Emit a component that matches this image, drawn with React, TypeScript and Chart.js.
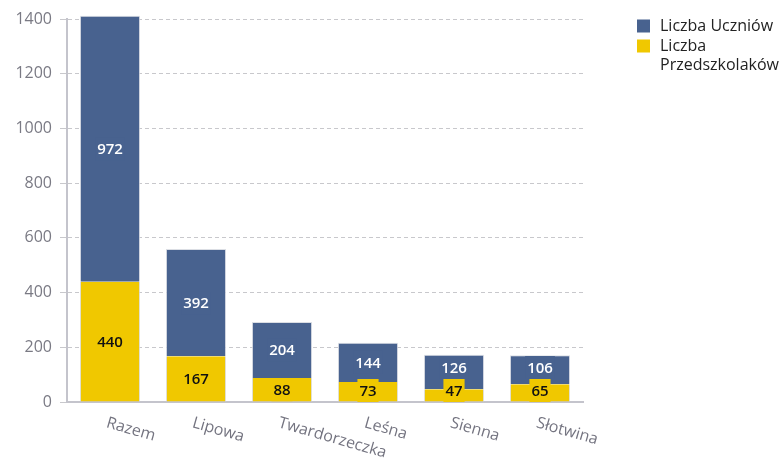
import React, { useEffect, useRef } from "react";
import { Chart, registerables } from "chart.js";

Chart.register(...registerables);

const categories = ["Razem", "Lipowa", "Twardorzeczka", "Leśna", "Sienna", "Słotwina"];
const przedszkolaki = [440, 167, 88, 73, 47, 65];
const uczniowie = [972, 392, 204, 144, 126, 106];
const yTicks = [0, 200, 400, 600, 800, 1000, 1200, 1400];

const BLUE = "#48628f";
const YELLOW = "#f0c800";
const FONT = "'Open Sans', sans-serif";

const labelsPlugin = {
  id: "segLabels",
  afterDatasetsDraw(chart: any) {
    const ctx = chart.ctx;
    const bottom = chart.chartArea.bottom;
    const yMeta = chart.getDatasetMeta(0);
    const bMeta = chart.getDatasetMeta(1);
    const half = 11.5;
    ctx.save();
    ctx.font = `600 15px ${FONT}`;
    ctx.textAlign = "center";
    ctx.textBaseline = "middle";
    const drawLabel = (x: number, cy: number, text: string, bg: string, fg: string) => {
      const w = ctx.measureText(text).width + 4;
      ctx.fillStyle = bg;
      ctx.fillRect(x - w / 2, cy - half, w, half * 2);
      ctx.fillStyle = fg;
      ctx.fillText(text, x, cy + 1);
    };
    yMeta.data.forEach((el: any, i: number) => {
      const be = bMeta.data[i];
      const ySeg = (el.y + el.base) / 2;
      const yc = Math.min(ySeg, bottom - half);
      const bSeg = (be.y + be.base) / 2;
      const bc = Math.min(bSeg, yc - 2 * half);
      drawLabel(be.x, bc, String(uczniowie[i]), BLUE, "#ffffff");
      drawLabel(el.x, yc, String(przedszkolaki[i]), YELLOW, "#111111");
    });
    ctx.restore();
  },
};

const xLabelsPlugin = {
  id: "xLabels",
  afterDraw(chart: any) {
    const ctx = chart.ctx;
    const xs = chart.scales.x;
    ctx.save();
    ctx.font = `16px ${FONT}`;
    ctx.fillStyle = "#747480";
    ctx.textAlign = "left";
    ctx.textBaseline = "top";
    categories.forEach((c, i) => {
      const x = xs.getPixelForTick(i);
      ctx.save();
      ctx.translate(x - 1, 415);
      ctx.rotate((16 * Math.PI) / 180);
      ctx.fillText(c, 0, 0);
      ctx.restore();
    });
    ctx.restore();
  },
};

const legendPlugin = {
  id: "customLegend",
  afterDraw(chart: any) {
    const ctx = chart.ctx;
    ctx.save();
    ctx.font = `16px ${FONT}`;
    ctx.textAlign = "left";
    ctx.textBaseline = "middle";
    const items = [
      { color: BLUE, lines: ["Liczba Uczniów"] },
      { color: YELLOW, lines: ["Liczba", "Przedszkolaków"] },
    ];
    let y = 26;
    items.forEach((it) => {
      ctx.fillStyle = it.color;
      ctx.fillRect(637, y - 6.5, 13, 13);
      ctx.fillStyle = "#222222";
      it.lines.forEach((ln, k) => {
        ctx.fillText(ln, 660, y + k * 19);
      });
      y += it.lines.length * 19 + 1;
    });
    ctx.restore();
  },
};

export default function App() {
  const ref = useRef<HTMLCanvasElement>(null);
  useEffect(() => {
    if (!ref.current) return;
    const chart = new Chart(ref.current, {
      type: "bar",
      data: {
        labels: categories,
        datasets: [
          {
            label: "Liczba Przedszkolaków",
            data: przedszkolaki,
            backgroundColor: YELLOW,
            borderColor: "rgba(215,218,225,0.9)",
            borderWidth: { left: 1, right: 1, top: 0, bottom: 0 },
            borderSkipped: false,
            clip: false,
          } as any,
          {
            label: "Liczba Uczniów",
            data: uczniowie,
            backgroundColor: BLUE,
            borderColor: "rgba(215,218,225,0.9)",
            borderWidth: { left: 1, right: 1, top: 1, bottom: 0 },
            borderSkipped: false,
            clip: false,
          } as any,
        ],
      },
      options: {
        responsive: false,
        animation: false,
        events: [],
        layout: { padding: { left: 0, right: 200, top: 19, bottom: 0 } },
        plugins: { legend: { display: false }, tooltip: { enabled: false } },
        datasets: { bar: { barPercentage: 0.7, categoryPercentage: 1 } },
        scales: {
          x: {
            stacked: true,
            grid: { display: false },
            border: { display: true, color: "#c4c4cc", width: 2 },
            ticks: { display: false },
            afterFit: (s: any) => {
              s.height = 56;
            },
          },
          y: {
            stacked: true,
            min: 0,
            max: 1400,
            afterBuildTicks: (s: any) => {
              s.ticks = yTicks.map((v) => ({ value: v }));
            },
            grid: {
              color: "#c8c8cc",
              tickLength: 7,
              drawTicks: true,
              lineWidth: 1,
            },
            border: { display: true, color: "#c4c4cc", width: 2, dash: [4, 3] } as any,
            ticks: {
              color: "#7a7a84",
              font: { family: FONT, size: 16 },
              padding: 8,
              callback: (v: any) => String(v),
            },
            afterFit: (s: any) => {
              s.width = 67;
            },
          },
        },
      },
      plugins: [labelsPlugin, xLabelsPlugin, legendPlugin],
    });
    return () => chart.destroy();
  }, []);
  return (
    <canvas
      ref={ref}
      width={783}
      height={458}
      style={{ position: "absolute", left: 0, top: 0, width: 783, height: 458 }}
    />
  );
}
